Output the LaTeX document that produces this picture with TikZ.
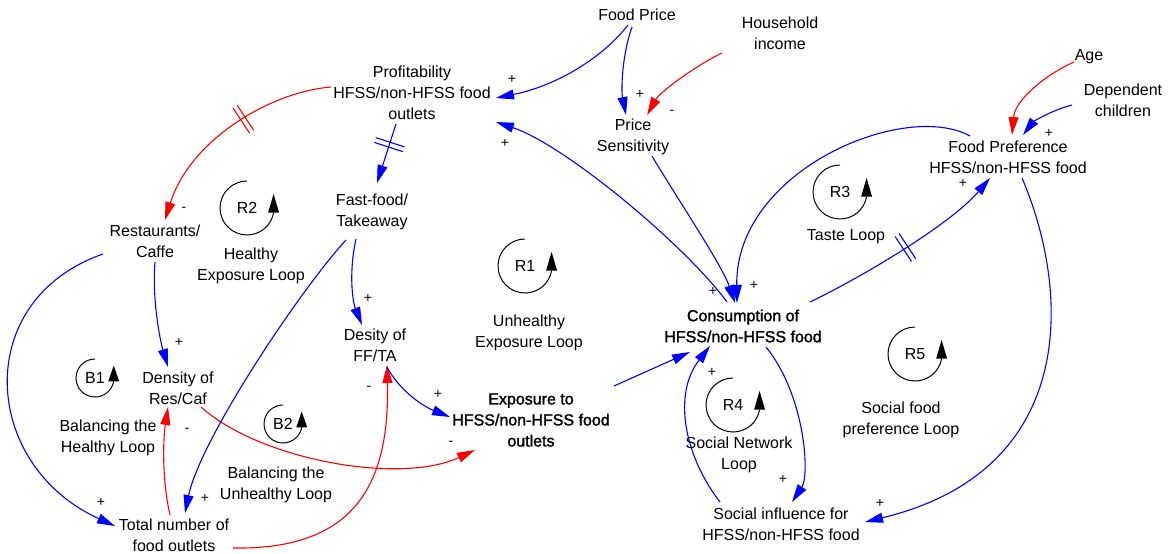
\documentclass[tikz,border=0pt]{standalone}
\usepackage{fontspec}
\setmainfont{Liberation Sans}
\newfontfamily\emphfont[FakeBold=1.6]{Liberation Sans}
\usetikzlibrary{arrows.meta,decorations.markings}
\definecolor{linkblue}{RGB}{0,0,255}
\definecolor{linkred}{RGB}{255,0,0}

% loop marker: centre x, centre y, radius (pt), label
\newcommand\loopsym[4]{%
  \begin{scope}[shift={(#1,#2)}]
    \draw[line width=1pt] (0,-#3) arc[start angle=90, end angle=350, radius=#3pt];
    \fill ({0.985*#3-5.5},{0.174*#3}) -- ({0.985*#3+5.5},{0.174*#3})
          -- ({0.985*#3},{0.174*#3-0.4*#3-8}) -- cycle;
    \node[txt] (loop#4) at (0,0) {#4};
  \end{scope}}

\begin{document}
\begin{tikzpicture}[x=1pt,y=-1pt,
  txt/.style={align=center, inner sep=0pt, font=\fontsize{16}{21}\selectfont},
  strong/.style={txt, font=\emphfont\fontsize{16}{21}\selectfont},
  sgn/.style={inner sep=0pt, font=\fontsize{14}{14}\selectfont},
  link/.style={line width=1.1pt, -{Triangle[length=18pt,width=10pt]}},
  plink/.style={link, color=linkblue},
  nlink/.style={link, color=linkred},
  delaymark/.style={postaction={decorate}, decoration={markings,
    mark=at position #1 with {\draw[-, line width=1.1pt]
      (-2.5pt,-15pt) -- (-2.5pt,15pt) (2.5pt,-15pt) -- (2.5pt,15pt);}}}
]
\useasboundingbox (0,0) rectangle (1175,554);
\fill[white] (0,0) rectangle (1175,554);

% variables
\node[txt] (fp) at (637,15) {Food Price};
\node[txt] (hi) at (780,33) {Household\\income};
\node[txt] (prof) at (412,93) {Profitability\\HFSS/non-HFSS food\\outlets};
\node[txt] (ps) at (633,137) {Price\\Sensitivity};
\node[txt] (age) at (1089,57) {Age};
\node[txt] (dc) at (1123,100) {Dependent\\children};
\node[txt] (pref) at (1008,157) {Food Preference\\HFSS/non-HFSS food};
\node[txt] (ff) at (372,212) {Fast-food/\\Takeaway};
\node[txt] (rc) at (155,241) {Restaurants/\\Caffe};
\node[strong] (cons) at (743,326) {Consumption of\\HFSS/non-HFSS food};
\node[txt] (dff) at (375,345) {Desity of\\FF/TA};
\node[txt] (drc) at (178,388) {Density of\\Res/Caf};
\node[strong] (expo) at (531,420) {Exposure to\\HFSS/non-HFSS food\\outlets};
\node[txt] (tot) at (174,535) {Total number of\\food outlets};
\node[txt] (soc) at (781,524) {Social influence for\\HFSS/non-HFSS food};

% loop names
\node[txt] (lblR2) at (251,266) {Healthy\\Exposure Loop};
\node[txt] (lblR1) at (529,333) {Unhealthy\\Exposure Loop};
\node[txt] (lblR3) at (846,237) {Taste Loop};
\node[txt] (lblB1) at (108,438) {Balancing the\\Healthy Loop};
\node[txt] (lblB2) at (276,485) {Balancing the\\Unhealthy Loop};
\node[txt] (lblR4) at (739,455) {Social Network\\Loop};
\node[txt] (lblR5) at (901,420) {Social food\\preference Loop};

\loopsym{525}{266}{27}{R1}
\loopsym{247}{208}{27}{R2}
\loopsym{840}{192}{27}{R3}
\loopsym{733}{405}{27}{R4}
\loopsym{915}{354}{27}{R5}
\loopsym{95}{378}{19}{B1}
\loopsym{283}{424}{19}{B2}

% links
\draw[plink] ([shift={(-9,10)}]fp.center) .. controls +(-23,30) and +(64,-13) .. ([shift={(84,5)}]prof.center);
\draw[plink] ([shift={(-5,12)}]fp.center) .. controls +(-10,28) and +(-5,-25) .. ([shift={(-7,-22)}]ps.center);
\draw[nlink] ([shift={(-58,20)}]hi.center) .. controls +(-27,13) and +(13,-23) .. ([shift={(14,-22)}]ps.center);
\draw[nlink, delaymark=0.42] ([shift={(-81,-6)}]prof.center) .. controls +(-61,5) and +(25,-80) .. ([shift={(10,-21)}]rc.center);
\draw[plink, delaymark=0.35] ([shift={(-16,31)}]prof.center) -- ([shift={(5,-29)}]ff.center);
\draw[plink] ([shift={(-16,-24)}]cons.center) .. controls +(-42,-57) and +(69,23) .. ([shift={(84,29)}]prof.center);
\draw[plink] ([shift={(19,19)}]ps.center) .. controls +(23,39) and +(-13,-38) .. ([shift={(-8,-23)}]cons.center);
\draw[plink] ([shift={(-38,-21)}]pref.center) .. controls +(-65,-36) and +(-2,-133) .. ([shift={(-6,-23)}]cons.center);
\draw[plink, delaymark=0.5] ([shift={(67,-24)}]cons.center) .. controls +(50,-24) and +(-40,47) .. ([shift={(-18,21)}]pref.center);
\draw[nlink] ([shift={(-15,5)}]age.center) .. controls +(-29,13) and +(3,-35) .. ([shift={(4,-22)}]pref.center);
\draw[plink] ([shift={(-51,5)}]dc.center) .. controls +(-20,5) and +(10,-13) .. ([shift={(15,-22)}]pref.center);
\draw[plink] ([shift={(14,21)}]pref.center) .. controls +(48,112) and +(215,-52) .. ([shift={(84,-2)}]soc.center);
\draw[plink] ([shift={(0,21)}]rc.center) .. controls +(-3,38) and +(-8,-27) .. ([shift={(-10,-21)}]drc.center);
\draw[plink] ([shift={(-52,13)}]rc.center) .. controls +(-132,46) and +(-134,-61) .. ([shift={(-59,-9)}]tot.center);
\draw[nlink] ([shift={(-4,-20)}]tot.center) .. controls +(-8,-35) and +(-5,33) .. ([shift={(-10,19)}]drc.center);
\draw[nlink] ([shift={(23,19)}]drc.center) .. controls +(59,53) and +(-75,35) .. ([shift={(-56,30)}]expo.center);
\draw[plink] ([shift={(-26,28)}]ff.center) .. controls +(-46,50) and +(15,-73) .. ([shift={(11,-22)}]tot.center);
\draw[plink] ([shift={(-16,27)}]ff.center) .. controls +(-7,31) and +(-10,-25) .. ([shift={(-13,-20)}]dff.center);
\draw[nlink] ([shift={(59,13)}]tot.center) .. controls +(117,2) and +(3,125) .. ([shift={(12,20)}]dff.center);
\draw[plink] ([shift={(12,22)}]dff.center) .. controls +(11,21) and +(-30,-12) .. ([shift={(-81,-3)}]expo.center);
\draw[plink] ([shift={(83,-34)}]expo.center) -- ([shift={(-53,26)}]cons.center);
\draw[plink] ([shift={(-61,-22)}]soc.center) .. controls +(-35,-45) and +(-38,49) .. ([shift={(-33,20)}]cons.center);
\draw[plink] ([shift={(23,21)}]cons.center) .. controls +(39,48) and +(18,-27) .. ([shift={(11,-22)}]soc.center);

% polarity signs
\node[sgn] (s1) at (512,79) {+};
\node[sgn] (s2) at (640,94) {+};
\node[sgn] (s3) at (672,112) {-};
\node[sgn] (s4) at (184,209) {-};
\node[sgn] (s5) at (505,143) {+};
\node[sgn] (s6) at (713,291) {+};
\node[sgn] (s7) at (754,285) {+};
\node[sgn] (s8) at (963,183) {+};
\node[sgn] (s9) at (1049,133) {+};
\node[sgn] (s10) at (880,503) {+};
\node[sgn] (s11) at (179,342) {+};
\node[sgn] (s12) at (101,502) {+};
\node[sgn] (s13) at (187,430) {-};
\node[sgn] (s14) at (451,443) {-};
\node[sgn] (s15) at (205,498) {+};
\node[sgn] (s16) at (368,298) {+};
\node[sgn] (s17) at (369,388) {-};
\node[sgn] (s18) at (438,394) {+};
\node[sgn] (s19) at (712,372) {+};
\node[sgn] (s20) at (783,479) {+};
\end{tikzpicture}
\end{document}
